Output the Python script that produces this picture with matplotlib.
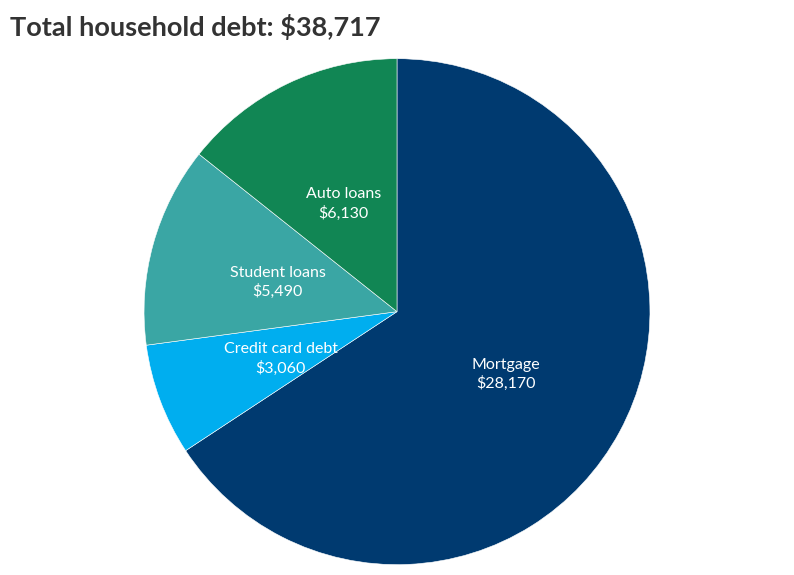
import matplotlib
matplotlib.use('Agg')
import matplotlib.pyplot as plt

plt.rcParams['font.family'] = ['Lato', 'DejaVu Sans']

# Daten
Kategorien = ['Mortgage', 'Credit card debt', 'Student loans', 'Auto loans']
Werte = [28170, 3060, 5490, 6130]
Farben = ['#003a70', '#00aeef', '#3aa6a4', '#118654']
Titel = 'Total household debt: $38,717'

beschriftung = [k + '\n$' + format(w, ',') for k, w in zip(Kategorien, Werte)]

fig = plt.figure(figsize=(7.94, 5.75), dpi=100)
ax = fig.add_axes([0.5 - 0.3186, 0.458 - 0.44, 0.6372, 0.88])

wedges, texts = ax.pie(Werte, labels=beschriftung, colors=Farben,
                       startangle=90, counterclock=False,
                       labeldistance=0.49,
                       wedgeprops=dict(edgecolor='white', linewidth=0.4),
                       textprops=dict(color='white', fontsize=11.5))
for t in texts:
    t.set_ha('center')
    t.set_va('center')
    t.set_linespacing(1.35)
    x, y = t.get_position()
    t.set_position((x, y - 0.015))  # etwas tiefer wie im Original
ax.set_xlim(-1, 1)
ax.set_ylim(-1, 1)
ax.set_aspect('equal')

fig.text(0.013, 0.953, Titel, fontsize=19.5, fontweight='bold',
         color='#333333', ha='left', va='center')

fig.savefig('out.png', dpi=100)
